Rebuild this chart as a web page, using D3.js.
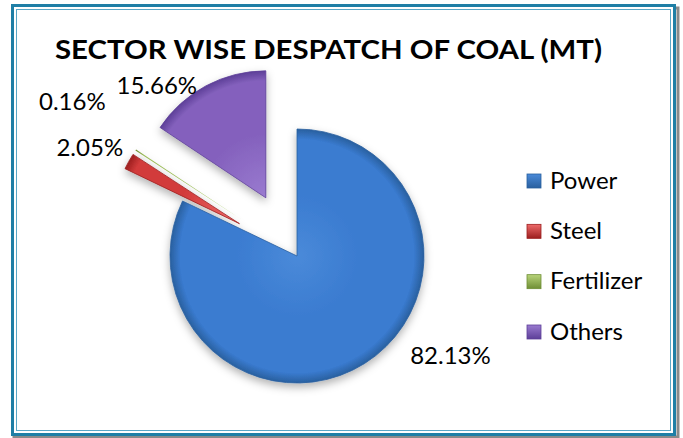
<!DOCTYPE html>
<html>
<head>
<meta charset="utf-8">
<script src="https://cdn.jsdelivr.net/npm/d3@7"></script>
<style>
  body { margin: 0; background: #fff; }
  svg { display: block; }
</style>
</head>
<body>
<div id="chart"></div>
<script>
const width = 683;
const height = 438;

// data
const sectors = ["Power", "Steel", "Fertilizer", "Others"];
const shares = [82.13, 2.05, 0.16, 15.66];
const sectorColors = ["#3a7bd0", "#d23b3b", "#9bbb59", "#8461bd"];
const sectorDark = ["#29609f", "#9c1f1f", "#6f8e35", "#5d3f98"];
const sectorLight = ["#4a8ad9", "#ee6a6a", "#b8d47a", "#9a7bd0"];
const explode = [0, 66, 66, 66];
// label placement, polar from each slice's own centre (deg clockwise from top, px)
const labelAngle = [123, 297, 305, 316];
const labelDist = [183, 168, 207, 157];

const cx = 297, cy = 256, radius = 127;

const svg = d3.select("#chart").append("svg")
    .attr("width", width).attr("height", height);

const defs = svg.append("defs");

sectors.forEach((s, i) => {
    const g = defs.append("radialGradient")
        .attr("id", "grad" + i)
        .attr("gradientUnits", "userSpaceOnUse")
        .attr("cx", 0).attr("cy", 0).attr("r", radius);
    g.append("stop").attr("offset", "0%").attr("stop-color", sectorLight[i]);
    g.append("stop").attr("offset", "50%").attr("stop-color", sectorColors[i]);
    g.append("stop").attr("offset", "92%").attr("stop-color", sectorColors[i]);
    g.append("stop").attr("offset", "100%").attr("stop-color", sectorDark[i]);

    const lg = defs.append("linearGradient")
        .attr("id", "leg" + i)
        .attr("x1", 0).attr("y1", 0).attr("x2", 0).attr("y2", 1);
    lg.append("stop").attr("offset", "0%").attr("stop-color", sectorLight[i]);
    lg.append("stop").attr("offset", "100%").attr("stop-color", sectorDark[i]);
});

const shadow = defs.append("filter").attr("id", "shadow")
    .attr("x", "-20%").attr("y", "-20%").attr("width", "140%").attr("height", "140%");
shadow.append("feDropShadow")
    .attr("dx", 0).attr("dy", 4).attr("stdDeviation", 4)
    .attr("flood-color", "#000").attr("flood-opacity", 0.3);

// frame
svg.append("rect")
    .attr("x", 14).attr("y", 8).attr("width", 664).attr("height", 429)
    .attr("fill", "none").attr("stroke", "#8a8a8a").attr("stroke-width", 3);
svg.append("rect")
    .attr("x", 12.5).attr("y", 5.5).attr("width", 662).attr("height", 429)
    .attr("fill", "#fff").attr("stroke", "#1f7fa6").attr("stroke-width", 3);
svg.append("rect")
    .attr("x", 16.5).attr("y", 9.5).attr("width", 654).attr("height", 421)
    .attr("fill", "none").attr("stroke", "#5aa6c6").attr("stroke-width", 1);

// title
svg.append("text")
    .attr("x", 55).attr("y", 59)
    .attr("textLength", 547).attr("lengthAdjust", "spacingAndGlyphs")
    .style("font-family", "Lato, 'Open Sans', sans-serif")
    .style("font-weight", 700)
    .style("font-size", "27px")
    .attr("fill", "#000")
    .text("SECTOR WISE DESPATCH OF COAL (MT)");

// pie
const pie = d3.pie().sort(null).value(d => d.value);
const arcs = pie(sectors.map((s, i) => ({ name: s, value: shares[i], i })));

const arc = d3.arc().innerRadius(0).outerRadius(radius);

const offset = (a, d) => {
    const m = (a.startAngle + a.endAngle) / 2;
    return [Math.sin(m) * d, -Math.cos(m) * d];
};

const pieG = svg.append("g")
    .attr("transform", `translate(${cx},${cy})`)
    .attr("filter", "url(#shadow)");

pieG.selectAll("path")
    .data(arcs)
    .join("path")
    .attr("transform", d => {
        const [dx, dy] = offset(d, explode[d.data.i]);
        return `translate(${dx},${dy})`;
    })
    .attr("d", arc)
    .attr("fill", d => `url(#grad${d.data.i})`)
    .attr("stroke", d => d.data.i === 2 ? "none" : sectorDark[d.data.i])
    .attr("stroke-width", 0.8)
    .attr("stroke-linejoin", "round");

// data labels
const labelG = svg.append("g").attr("transform", `translate(${cx},${cy})`);
labelG.selectAll("text")
    .data(arcs)
    .join("text")
    .attr("x", d => {
        const [dx] = offset(d, explode[d.data.i]);
        const a = labelAngle[d.data.i] * Math.PI / 180;
        return dx + Math.sin(a) * labelDist[d.data.i];
    })
    .attr("y", d => {
        const [, dy] = offset(d, explode[d.data.i]);
        const a = labelAngle[d.data.i] * Math.PI / 180;
        return dy - Math.cos(a) * labelDist[d.data.i];
    })
    .attr("dy", "0.36em")
    .attr("text-anchor", "middle")
    .style("font-family", "Lato, 'Open Sans', sans-serif")
    .style("font-size", "24px")
    .attr("fill", "#000")
    .text(d => d3.format(".2f")(d.data.value) + "%");

// legend
const legendY = d3.scalePoint().domain(sectors).range([180, 331]);
const legend = svg.append("g");
const item = legend.selectAll("g")
    .data(sectors)
    .join("g")
    .attr("transform", d => `translate(527,${legendY(d)})`);
item.append("rect")
    .attr("x", 0).attr("y", -6).attr("width", 14).attr("height", 14)
    .attr("fill", (d, i) => `url(#leg${i})`)
    .attr("stroke", (d, i) => sectorDark[i])
    .attr("stroke-width", 0.8);
item.append("text")
    .attr("x", 23).attr("y", 0)
    .attr("dy", "0.36em")
    .style("font-family", "Lato, 'Open Sans', sans-serif")
    .style("font-size", "24px")
    .attr("fill", "#000")
    .text(d => d);
</script>
</body>
</html>
